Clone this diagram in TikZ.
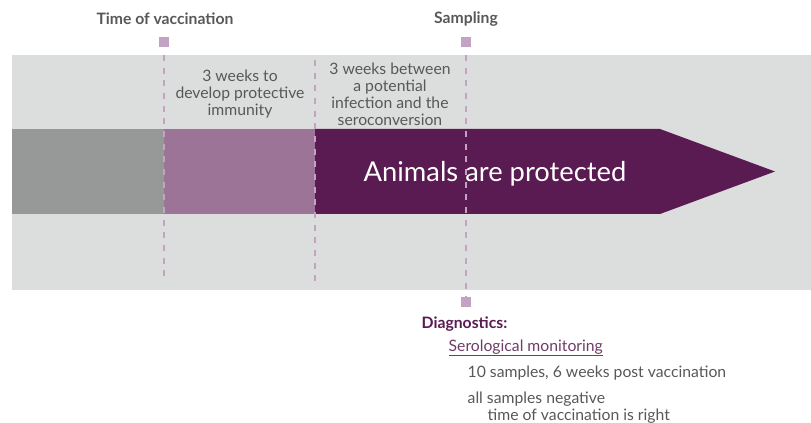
\documentclass[tikz,border=0pt]{standalone}
\usepackage{fontspec}
\setmainfont{Lato}
\usetikzlibrary{positioning}
\definecolor{bandgray}{HTML}{DCDDDD}
\definecolor{pastgray}{HTML}{979998}
\definecolor{lightplum}{HTML}{9B7497}
\definecolor{darkplum}{HTML}{5A1A52}
\definecolor{markplum}{HTML}{C2A3C1}
\definecolor{textgray}{HTML}{585858}
\definecolor{linkplum}{HTML}{6E3D68}
\tikzset{
  marker/.style={draw=none, fill=markplum, minimum size=7pt, inner sep=0pt},
  guide/.style={draw=markplum, line width=1.1pt, dash pattern=on 4.5pt off 5pt},
  heading/.style={font=\bfseries\fontsize{11.8}{12.75}\selectfont, text=textgray},
  note/.style={font=\fontsize{11.8}{12.75}\selectfont, text=textgray, align=center},
  item/.style={font=\fontsize{11.8}{12.75}\selectfont, text=textgray, align=left, anchor=west}
}
\begin{document}
\begin{tikzpicture}[x=0.75pt, y=-0.75pt]
\useasboundingbox (0,0) rectangle (811,423);
\fill[bandgray] (12,55) rectangle (811,290);
\fill[pastgray] (12,129) rectangle (164,214);
\fill[lightplum] (164,129) rectangle (315,214);
\fill[darkplum] (315,129) -- (660,129) -- (775,171.5) -- (660,214) -- (315,214) -- cycle;
\node[text=white, font=\fontsize{20.5}{24}\selectfont] (protected) at (495,174) {Animals are protected};
\node[heading] (vactitle) at (165,19) {Time of vaccination};
\node[heading] (samptitle) at (466,19) {Sampling};
\node[marker] (vac) at (164,42) {};
\node[marker] (samp) at (466,42) {};
\node[marker] (diag) at (466,302) {};
\coordinate (vactop) at (164,55);
\coordinate (vacbot) at (164,282);
\coordinate (infectop) at (315,60);
\coordinate (infecbot) at (315,282);
\coordinate (samptop) at (466,55);
\draw[guide] (vactop) -- (vacbot);
\draw[guide] (infectop) -- (infecbot);
\draw[guide] (samptop) -- (diag);
\node[note] (immunity) at (240,94) {3 weeks to\\develop protective\\immunity};
\node[note] (seroconv) at (390,94) {3 weeks between\\a potential\\infection and the\\seroconversion};
\node[heading, text=darkplum, anchor=west] (diagtitle) at (417,324) {Diagnostics:};
\node[item, text=linkplum] (sero) at (444,348) {\underline{Serological monitoring}};
\node[item] (samples) at (463,373) {10 samples, 6 weeks post vaccination};
\node[item] (result) at (463,408) {all samples negative\\\hspace*{15pt}time of vaccination is right};
\end{tikzpicture}
\end{document}
